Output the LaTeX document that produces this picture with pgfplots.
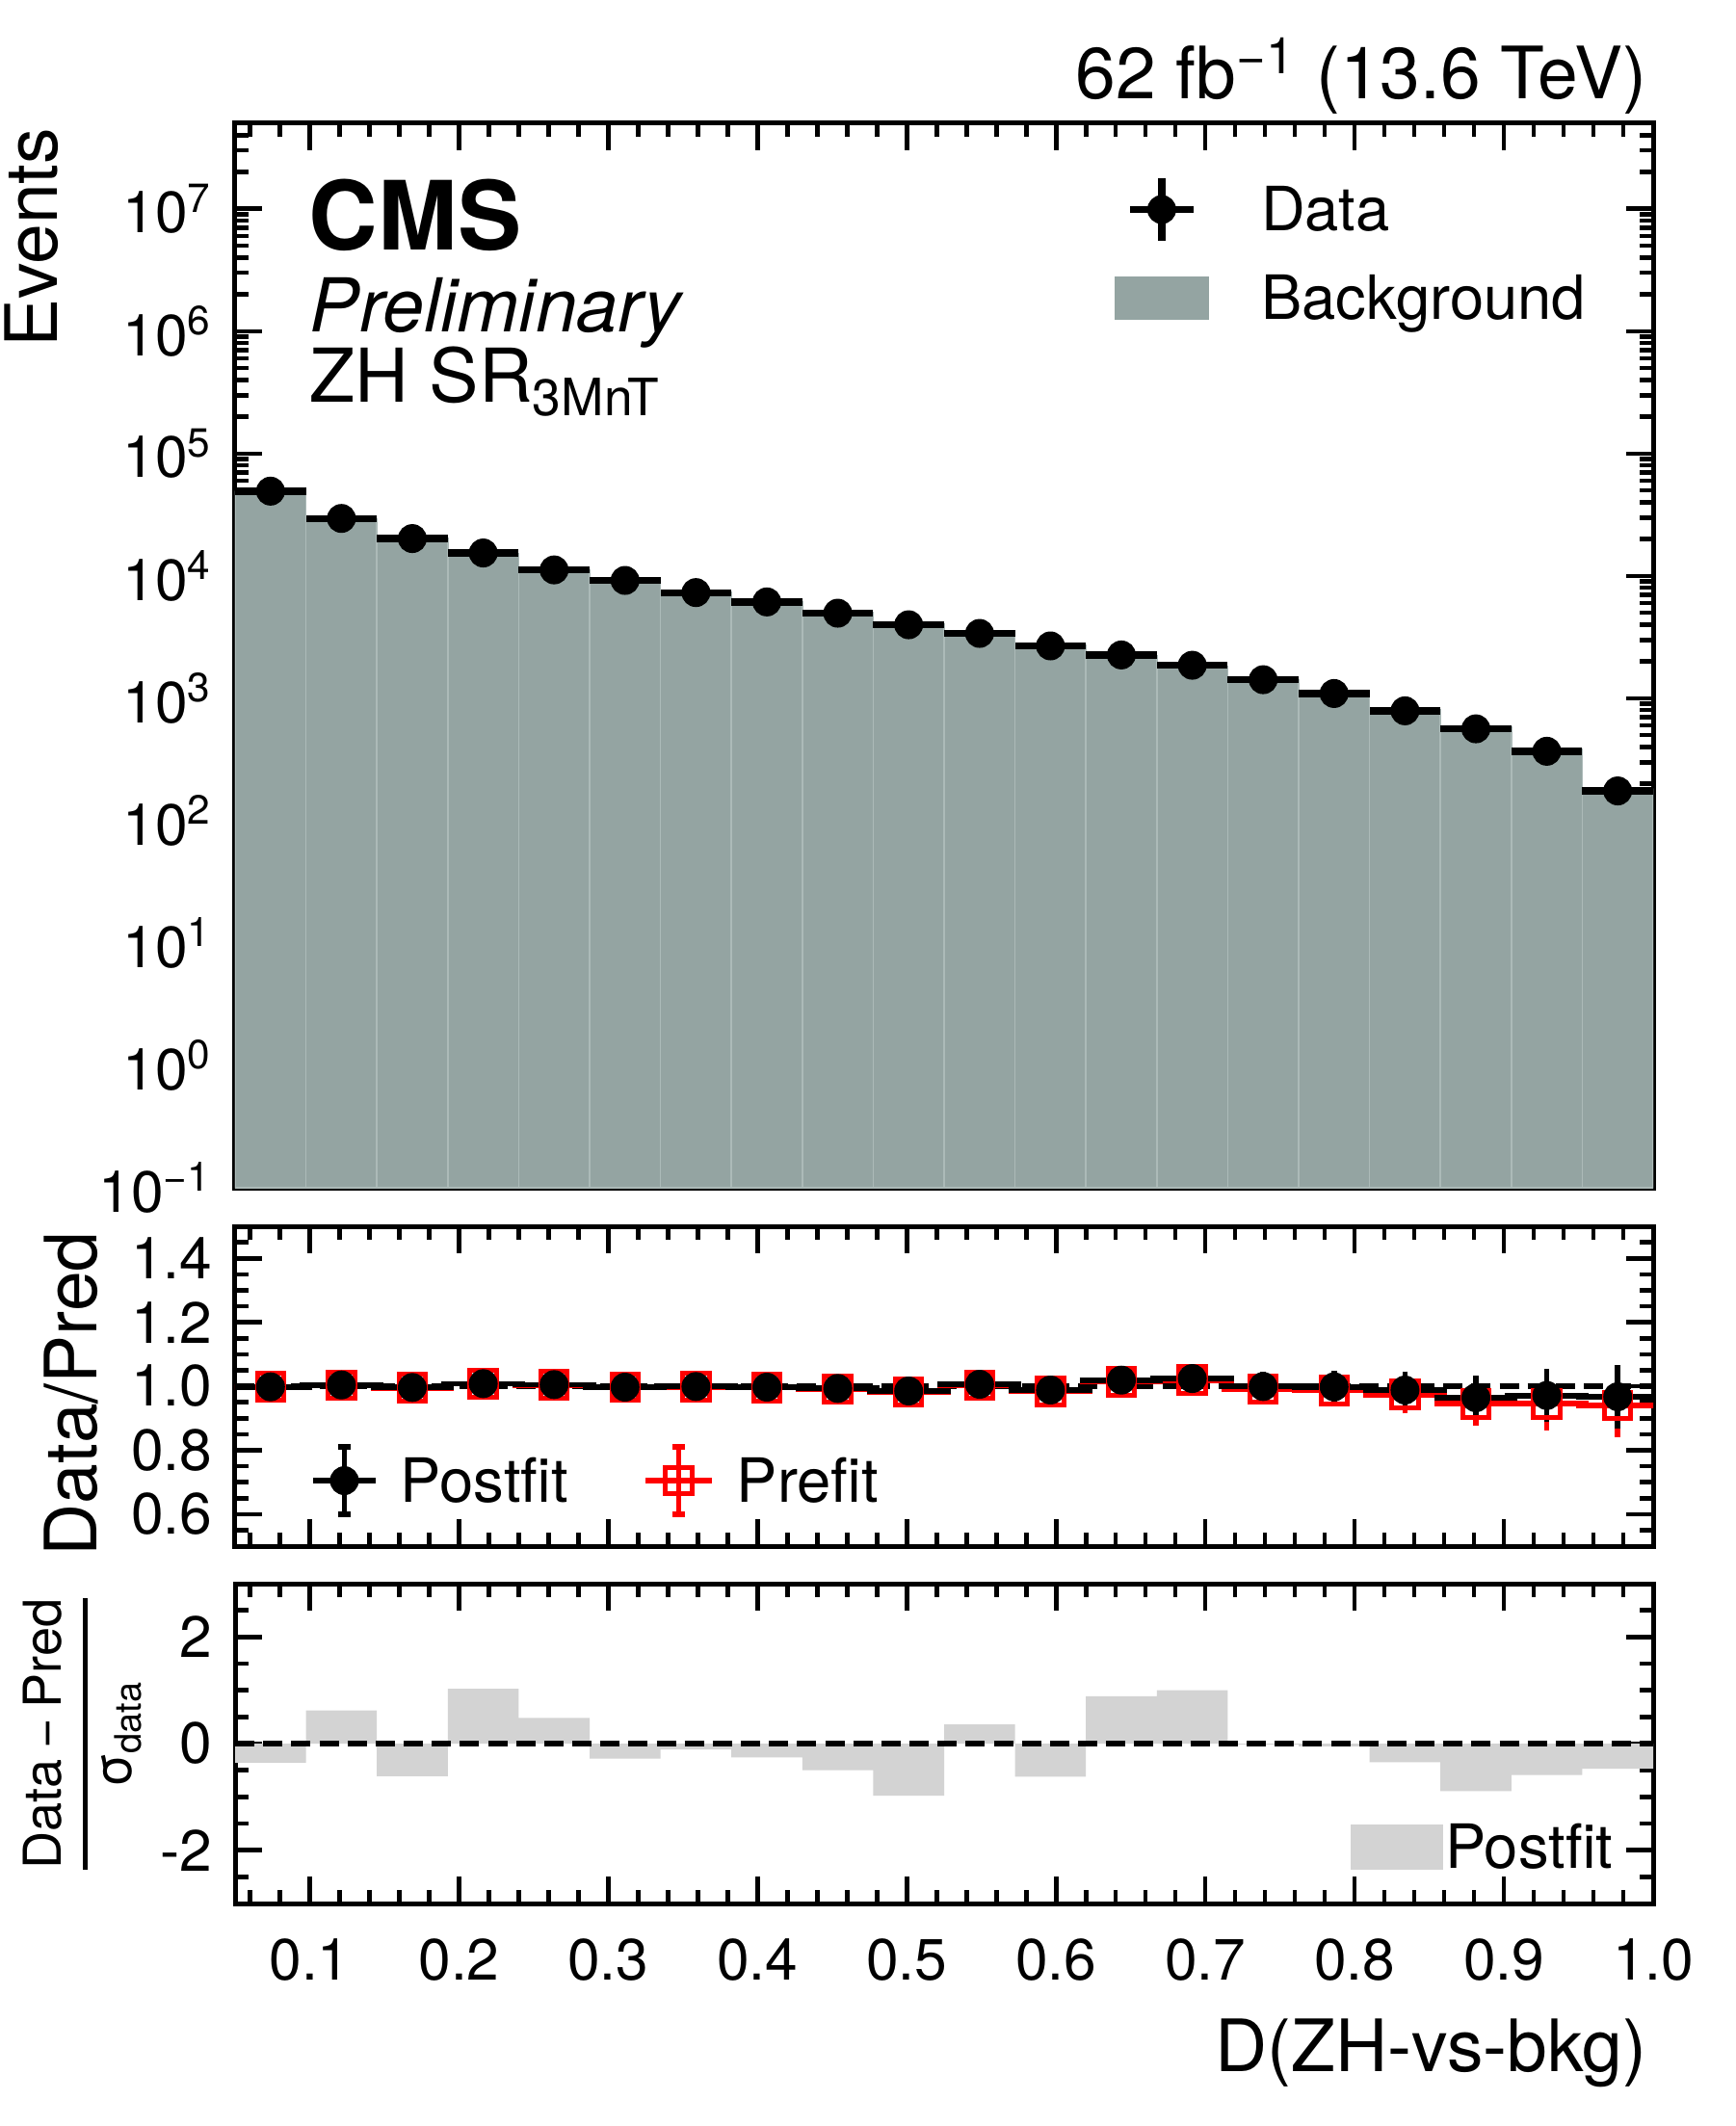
\documentclass[border=0pt]{standalone}
\usepackage{fontspec}
\setmainfont{TeX Gyre Heros}
\usepackage{pgfplots}
\pgfplotsset{compat=1.18}
\usepackage{pgfplotstable}
\definecolor{bkg}{RGB}{148,164,162}
\definecolor{bkgedge}{RGB}{172,186,184}
\definecolor{pullgray}{RGB}{211,211,211}
\definecolor{cmsred}{RGB}{255,0,0}

\pgfplotstableread{
x xe d de rpo rpoe rpr rpre
0.07375 0.02375 49300 222 0.998 0.0045 0.998 0.0046
0.12125 0.02375 29500 172 1.004 0.0059 1.003 0.0061
0.16875 0.02375 20200 142 0.996 0.0070 0.995 0.0072
0.21625 0.02375 15400 124 1.008 0.0081 1.008 0.0084
0.26375 0.02375 11200 106 1.005 0.0095 1.004 0.0098
0.31125 0.02375 9190 96 0.997 0.0104 0.997 0.0107
0.35875 0.02375 7310 85.5 0.999 0.0117 0.998 0.0120
0.40625 0.02375 6130 78.3 0.997 0.0127 0.996 0.0131
0.45375 0.02375 4960 70.4 0.993 0.0141 0.991 0.0145
0.50125 0.02375 3990 63.2 0.985 0.0156 0.982 0.0161
0.54875 0.02375 3390 58.2 1.006 0.0173 1.003 0.0178
0.59625 0.02375 2680 51.8 0.988 0.0191 0.984 0.0197
0.64375 0.02375 2260 47.5 1.019 0.0214 1.014 0.0221
0.69125 0.02375 1862 43.2 1.024 0.0237 1.019 0.0245
0.73875 0.02375 1419 37.7 0.999 0.0265 0.991 0.0273
0.78625 0.02375 1094 33.1 0.998 0.0302 0.987 0.0311
0.83375 0.02375 790 28.1 0.988 0.0380 0.974 0.0392
0.88125 0.02375 563 23.7 0.964 0.0480 0.945 0.0495
0.92875 0.02375 369 19.2 0.971 0.0620 0.945 0.0640
0.97625 0.02375 175 13.2 0.967 0.0780 0.940 0.0790
}\tbl

\pgfplotstableread{
xl bk pull
0.05 49380 -0.36
0.0975 29393 0.62
0.145 20287 -0.61
0.1925 15272 1.03
0.24 11149 0.48
0.2875 9217 -0.28
0.335 7319 -0.11
0.3825 6150 -0.26
0.43 4995 -0.50
0.4775 4052 -0.98
0.525 3369 0.36
0.5725 2712 -0.62
0.62 2218 0.89
0.6675 1819 1.00
0.715 1420 -0.02
0.7625 1096 -0.05
0.81 800 -0.35
0.8575 584 -0.89
0.905 380 -0.59
0.9525 181 -0.47
1.0 181 -0.47
}\edges

\pgfplotsset{
  cmsaxis/.style={
    scale only axis, width=353.28pt, height=79.68pt,
    xmin=0.05, xmax=1.0,
    xtick={0.1,0.2,0.3,0.4,0.5,0.6,0.7,0.8,0.9,1.0},
    minor xtick={0.06,0.08,0.12,0.14,0.16,0.18,0.22,0.24,0.26,0.28,0.32,0.34,0.36,0.38,0.42,0.44,0.46,0.48,0.52,0.54,0.56,0.58,0.62,0.64,0.66,0.68,0.72,0.74,0.76,0.78,0.82,0.84,0.86,0.88,0.92,0.94,0.96,0.98},
    axis line style={line width=1.2pt},
    tick style={black, line width=1.1pt},
    major tick length=6.72pt, minor tick length=3.36pt,
    tick align=inside, xtick pos=both, ytick pos=both,
    tick label style={font=\fontsize{14.5}{17}\selectfont},
    yticklabel style={inner sep=0pt, xshift=-5.5pt},
    xticklabel style={inner sep=0pt, yshift=-8.6pt},
    legend cell align=left,
    legend style={draw=none, fill=none, inner sep=0pt, outer sep=0pt,
      font=\fontsize{15.2}{18}\selectfont,
      nodes={inner sep=0pt, text height=10.6pt, text depth=0pt}},
  },
}

\begin{document}
\begin{tikzpicture}
\useasboundingbox (0pt,0pt) rectangle (432.24pt,-529.68pt);

% ---------------- main panel ----------------
\begin{axis}[cmsaxis, at={(58.56pt,-30.72pt)}, anchor=north west,
  height=265.2pt, ymode=log, ymin=0.1, ymax=5e7, log origin=infty,
  ytick={1e-1,1e0,1e1,1e2,1e3,1e4,1e5,1e6,1e7},
  yticklabels={10\textsuperscript{−1},10\textsuperscript{0},10\textsuperscript{1},10\textsuperscript{2},10\textsuperscript{3},10\textsuperscript{4},10\textsuperscript{5},10\textsuperscript{6},10\textsuperscript{7}},
  minor ytick={2e-1,3e-1,4e-1,5e-1,6e-1,7e-1,8e-1,9e-1,
    2e0,3e0,4e0,5e0,6e0,7e0,8e0,9e0,
    2e1,3e1,4e1,5e1,6e1,7e1,8e1,9e1,
    2e2,3e2,4e2,5e2,6e2,7e2,8e2,9e2,
    2e3,3e3,4e3,5e3,6e3,7e3,8e3,9e3,
    2e4,3e4,4e4,5e4,6e4,7e4,8e4,9e4,
    2e5,3e5,4e5,5e5,6e5,7e5,8e5,9e5,
    2e6,3e6,4e6,5e6,6e6,7e6,8e6,9e6,
    2e7,3e7,4e7},
  xticklabels={},
  legend style={at={(0.6202,0.9484)}, anchor=north west, row sep=8.88pt,
    /tikz/every odd column/.style={column sep=13pt}},
]
\addplot[ybar interval, fill=bkg, draw=bkgedge, line width=0.4pt, forget plot]
  table[x=xl, y=bk]{\edges};
\addplot[black, only marks, mark=*, mark size=3.4pt,
  legend image code/.code={
    \path[draw=none, fill=none] (0pt,-7.8pt) rectangle (23.5pt,7.8pt);
    \draw[overlay,black,line width=1.75pt] (3.85pt,0pt) -- (19.65pt,0pt);
    \draw[overlay,black,line width=1.75pt] (11.75pt,-7.8pt) -- (11.75pt,7.8pt);
    \fill[overlay,black] (11.75pt,0pt) circle (3.4pt);
  },
  error bars/.cd, x dir=both, x explicit, y dir=both, y explicit,
  error bar style={line width=1.75pt, black}, error mark=none]
  table[x=x, y=d, x error=xe, y error=de]{\tbl};
\addlegendentry{Data}
\addlegendimage{legend image code/.code={
    \fill[bkg, draw=none] (0pt,-5.4pt) rectangle (23.5pt,5.4pt);
  }}
\addlegendentry{Background}
\end{axis}

% ---------------- ratio panel ----------------
\begin{axis}[cmsaxis, at={(58.56pt,-305.52pt)}, anchor=north west,
  ymin=0.5, ymax=1.5,
  ytick={0.6,0.8,1.0,1.2,1.4}, yticklabels={0.6,0.8,1.0,1.2,1.4},
  minor ytick={0.55,0.65,0.7,0.75,0.85,0.9,0.95,1.05,1.1,1.15,1.25,1.3,1.35,1.45},
  xticklabels={},
  legend columns=2,
  legend style={at={(0.0550,0.3102)}, anchor=north west,
    /tikz/every odd column/.style={column sep=6.24pt},
    /tikz/every even column/.style={column sep=19.2pt}},
]
\addplot[black, line width=1.4pt, dash pattern=on 4.8pt off 2.2pt, forget plot]
  coordinates {(0.05,1) (1.0,1)};
\addplot[cmsred, only marks, mark=square, mark size=3.3pt,
  mark options={line width=1.2pt, fill=none}, forget plot,
  error bars/.cd, x dir=both, x explicit, y dir=both, y explicit,
  error bar style={line width=1.37pt, cmsred},
  error mark options={cmsred, mark size=1.6pt, line width=1.37pt}]
  table[x=x, y=rpr, x error=xe, y error=rpre]{\tbl};
\addplot[black, only marks, mark=*, mark size=3.4pt,
  legend image code/.code={
    \path[draw=none, fill=none] (0pt,-8.4pt) rectangle (15.6pt,8.4pt);
    \draw[overlay,black,line width=1.37pt] (0pt,0pt) -- (15.6pt,0pt);
    \draw[overlay,black,line width=1.37pt] (7.8pt,-8.4pt) -- (7.8pt,8.4pt);
    \draw[overlay,black,line width=1.37pt] (6.2pt,8.4pt) -- (9.4pt,8.4pt);
    \draw[overlay,black,line width=1.37pt] (6.2pt,-8.4pt) -- (9.4pt,-8.4pt);
    \fill[overlay,black] (7.8pt,0pt) circle (3.4pt);
  },
  error bars/.cd, x dir=both, x explicit, y dir=both, y explicit,
  error bar style={line width=1.37pt, black},
  error mark options={black, mark size=1.6pt, line width=1.37pt}]
  table[x=x, y=rpo, x error=xe, y error=rpoe]{\tbl};
\addlegendentry{Postfit}
\addlegendimage{legend image code/.code={
    \path[draw=none, fill=none] (0pt,-8.4pt) rectangle (16.5pt,8.4pt);
    \draw[overlay,cmsred,line width=1.37pt] (0pt,0pt) -- (16.5pt,0pt);
    \draw[overlay,cmsred,line width=1.37pt] (8.25pt,-8.4pt) -- (8.25pt,8.4pt);
    \draw[overlay,cmsred,line width=1.37pt] (6.65pt,8.4pt) -- (9.85pt,8.4pt);
    \draw[overlay,cmsred,line width=1.37pt] (6.65pt,-8.4pt) -- (9.85pt,-8.4pt);
    \draw[overlay,cmsred,line width=1.2pt] (4.95pt,-3.3pt) rectangle (11.55pt,3.3pt);
  }}
\addlegendentry{Prefit}
\end{axis}

% ---------------- pull panel ----------------
\begin{axis}[cmsaxis, at={(58.56pt,-394.56pt)}, anchor=north west,
  ymin=-3, ymax=3,
  ytick={-2,0,2}, yticklabels={-2,0,2},
  minor ytick={-2.5,-1.5,-1,-0.5,0.5,1,1.5,2.5},
  xticklabels={0.1,0.2,0.3,0.4,0.5,0.6,0.7,0.8,0.9,1.0},
  legend style={at={(0.7867,0.247)}, anchor=north west,
    /tikz/every odd column/.style={column sep=0.5pt}},
]
\addplot[ybar interval, fill=pullgray, draw=none,
  legend image code/.code={
    \fill[pullgray, draw=none] (0pt,-5.64pt) rectangle (23.04pt,5.64pt);
  }]
  table[x=xl, y=pull]{\edges};
\addlegendentry{Postfit}
\addplot[black, line width=1.4pt, dash pattern=on 4.8pt off 2.2pt, forget plot]
  coordinates {(0.05,0) (1.0,0)};
\end{axis}

% ---------------- texts ----------------
\node[anchor=base east, inner sep=0pt, font=\fontsize{18}{22}\selectfont]
  at (410.4pt,-24.72pt) {62 fb\textsuperscript{−1} (13.6 TeV)};
\node[anchor=base west, inner sep=0pt, font=\fontsize{23.8}{28}\selectfont\bfseries]
  at (76.8pt,-62.16pt) {CMS};
\node[anchor=base west, inner sep=0pt, font=\fontsize{18.5}{22}\selectfont\itshape]
  at (77pt,-82.56pt) {Preliminary};
\node[anchor=base west, inner sep=0pt, font=\fontsize{18.5}{22}\selectfont]
  at (77pt,-100.08pt) {ZH SR\raisebox{-3.4pt}{\fontsize{12.8}{15}\selectfont 3MnT}};
\node[rotate=90, anchor=base east, inner sep=0pt, font=\fontsize{18}{21}\selectfont]
  at (14.4pt,-31.7pt) {Events};
\node[rotate=90, anchor=base, inner sep=0pt, font=\fontsize{18}{21}\selectfont]
  at (24pt,-347.3pt) {Data/Pred};
\node[rotate=90, inner sep=0pt, font=\fontsize{13}{15}\selectfont]
  at (21pt,-432pt) {\setlength{\arrayrulewidth}{1pt}\begin{tabular}{@{}c@{}}Data\hspace{0.2em}−\hspace{0.2em}Pred\\[1pt]\hline\rule{0pt}{11pt}σ\textsubscript{data}\end{tabular}};
\node[anchor=base east, inner sep=0pt, font=\fontsize{18}{21}\selectfont]
  at (410.4pt,-516pt) {D(ZH-vs-bkg)};
\end{tikzpicture}
\end{document}
